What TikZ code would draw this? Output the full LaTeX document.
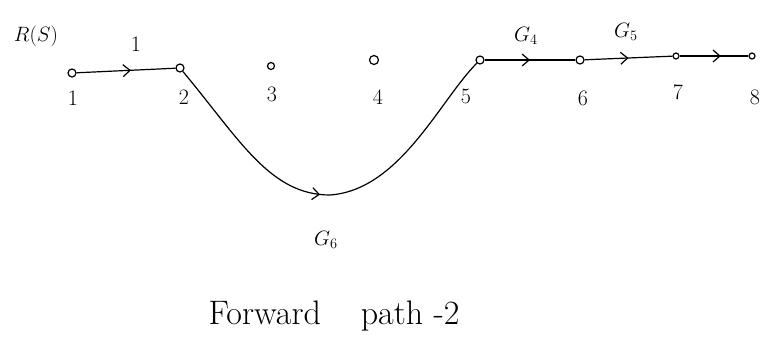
\documentclass[tikz,border=0pt]{standalone}
\usetikzlibrary{arrows.meta,decorations.markings}
\begin{document}
\begin{tikzpicture}[x=1pt,y=-1pt,
  vtx/.style={circle,draw,line width=1.2pt,inner sep=0pt,minimum size=8pt},
  lbl/.style={font=\fontsize{22}{24}\selectfont},
  midarr/.style={postaction={decorate},decoration={markings,
    mark=at position #1 with {\arrow{Straight Barb[length=7pt,width=12pt,line width=1.2pt]}}}},
  br/.style={line width=1.2pt}]
\useasboundingbox (0,0) rectangle (768,341);
\node[vtx] (n1) at (72,73) {};
\node[vtx] (n2) at (180,68) {};
\node[vtx,minimum size=7pt] (n3) at (271,66) {};
\node[vtx,minimum size=9pt] (n4) at (374,60) {};
\node[vtx] (n5) at (480,60) {};
\node[vtx] (n6) at (580,60) {};
\node[vtx,minimum size=6pt] (n7) at (676,56) {};
\node[vtx,minimum size=6pt] (n8) at (752,56) {};
\node[lbl] (l1) at (73,98) {1};
\node[lbl] (l2) at (184,97) {2};
\node[lbl] (l3) at (272,94) {3};
\node[lbl] (l4) at (378,97) {4};
\node[lbl] (l5) at (466,96) {5};
\node[lbl] (l6) at (583,98) {6};
\node[lbl] (l7) at (678,92) {7};
\node[lbl] (l8) at (755,97) {8};
\node[lbl] (rs) at (36,36) {$R(S)$};
\node[lbl] (g1) at (136,44) {1};
\node[lbl] (g4) at (526,36) {$G_4$};
\node[lbl] (g5) at (626,32) {$G_5$};
\node[lbl] (g6) at (326,240) {$G_6$};
\node[font=\fontsize{34}{36}\selectfont] (title) at (334,316) {Forward\hspace{40pt}path -2};
\draw[br,midarr=0.55] (n1) -- (n2);
\draw[br,midarr=0.5] (n5) -- (n6);
\draw[br,midarr=0.5] (n6) -- (n7);
\draw[br,midarr=0.6] (n7) -- (n8);
\draw[br,midarr=0.47] (n2) .. controls (240,140) and (270,195) .. (330,195)
  .. controls (400,190) and (440,100) .. (n5);
\end{tikzpicture}
\end{document}
